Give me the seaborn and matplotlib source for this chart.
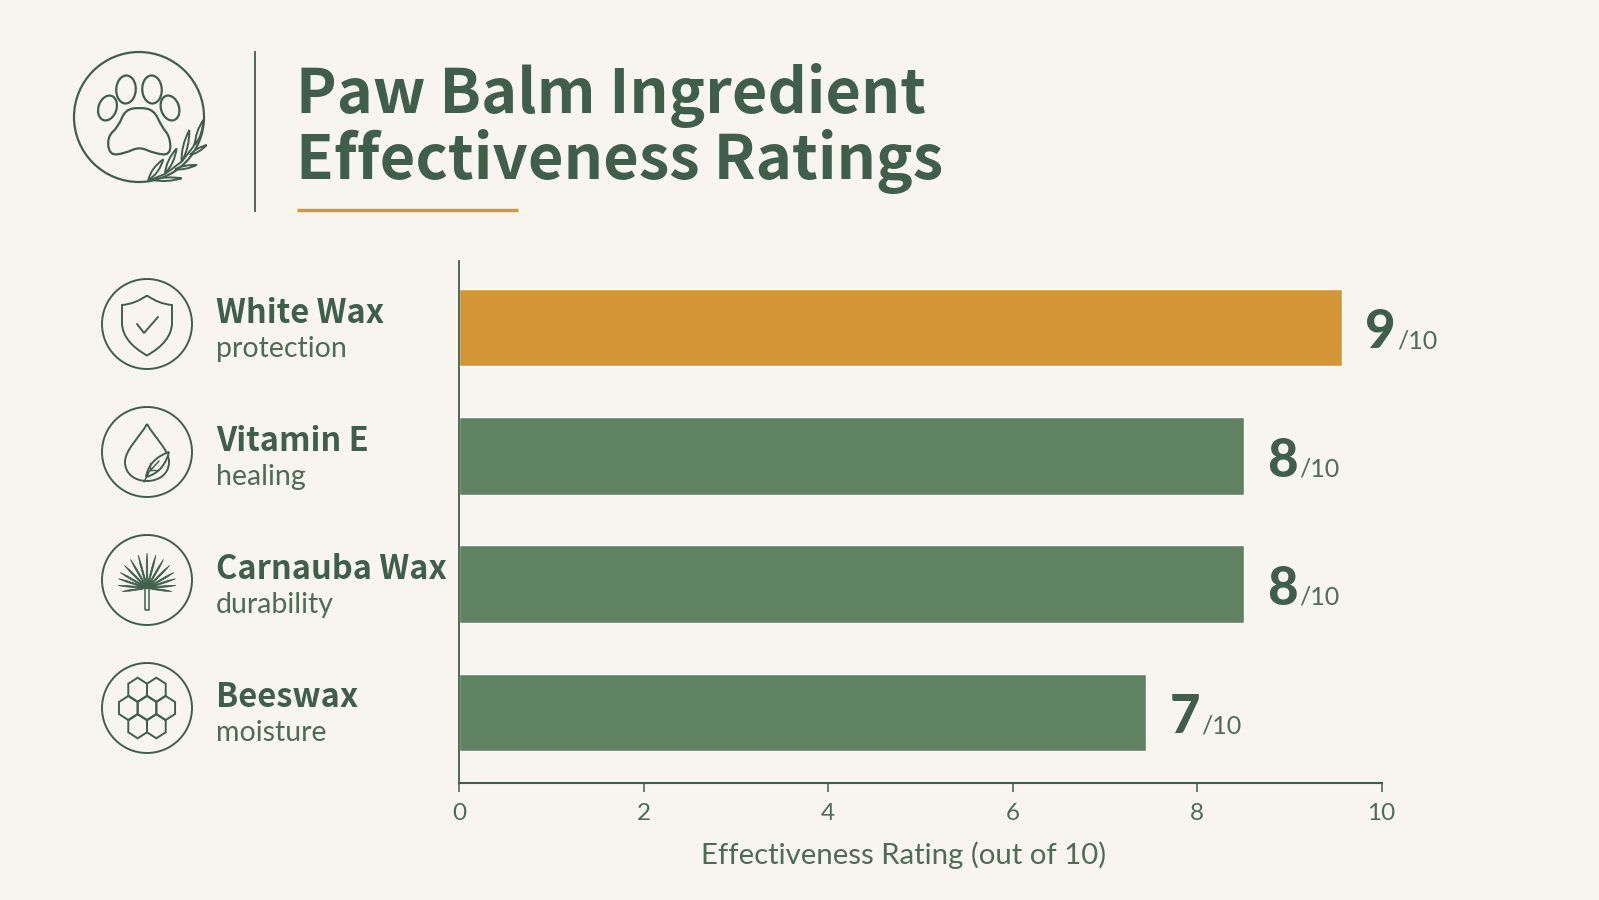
import numpy as np
import pandas as pd
import matplotlib
matplotlib.use("Agg")
import matplotlib.pyplot as plt
from matplotlib.path import Path
from matplotlib.patches import Circle, Ellipse, PathPatch, Polygon
import seaborn as sns

# Ratings
ingredients = ["White Wax", "Vitamin E", "Carnauba Wax", "Beeswax"]
benefits = ["protection", "healing", "durability", "moisture"]
ratings = [9, 8, 8, 7]
highlighted = ["yes", "no", "no", "no"]
axis_ticks = [0, 2, 4, 6, 8, 10]

BG = "#F8F5EE"
DARK = "#3F5F4A"
TEXT = "#4C6C56"
GREEN = "#5F8260"
ORANGE = "#D49536"
FONT = "Lato"
HEAD_FONT = "Noto Sans CJK JP"

sns.set_theme(style="white", rc={"font.family": FONT, "figure.facecolor": BG, "axes.facecolor": BG})

W, H = 1599, 900
fig = plt.figure(figsize=(W / 100, H / 100), dpi=100, facecolor=BG)

# Full-figure layer in pixel coordinates for the header, icons and row names
px = fig.add_axes([0, 0, 1, 1], zorder=0)
px.set_xlim(0, W)
px.set_ylim(H, 0)
px.axis("off")

# ---- bars ----
left, right, top, bottom = 459.3, 1381.5, 261, 783
ax = fig.add_axes([left / W, (H - bottom) / H, (right - left) / W, (bottom - top) / H], zorder=2)
ax.patch.set_alpha(0)
df = pd.DataFrame({"ingredient": ingredients, "rating": ratings, "highlight": highlighted})
sns.barplot(data=df, x="rating", y="ingredient", hue="highlight", order=ingredients,
            palette={"yes": ORANGE, "no": GREEN}, dodge=False, width=0.605, saturation=1,
            legend=False, ax=ax)
# The bars run on a stretched scale: a rating of 9 reaches past the 9 position
# of the printed 0-10 axis below.
ax.set_xlim(0, 9.405)
ax.set_ylim(3.55, -0.518)
ax.set_xlabel("")
ax.set_ylabel("")
ax.set_yticks([])
ax.set_xticks([])
for side in ("top", "right", "bottom"):
    ax.spines[side].set_visible(False)
ax.spines["left"].set_color(DARK)
ax.spines["left"].set_linewidth(1.3)

# Printed 0-10 axis
scale = ax.twiny()
scale.patch.set_alpha(0)
scale.set_xlim(0, 10)
scale.xaxis.set_ticks_position("bottom")
scale.xaxis.set_label_position("bottom")
scale.set_xticks(axis_ticks)
scale.set_xticklabels([str(t) for t in axis_ticks])
scale.tick_params(axis="x", length=6.5, width=1.1, color=DARK, labelcolor=TEXT, labelsize=17.5, pad=8)
for side in ("top", "right", "left"):
    scale.spines[side].set_visible(False)
scale.spines["bottom"].set_color(DARK)
scale.spines["bottom"].set_linewidth(1.5)
scale.set_xlabel("Effectiveness Rating (out of 10)", fontsize=21.2, color=TEXT)
scale.xaxis.set_label_coords(0.482, -0.112)

# Value labels beside each bar
for i, value in enumerate(ratings):
    ax.annotate(str(value), xy=(value, i), xytext=(17, -15), textcoords="offset points",
                fontsize=38, fontweight=900, color=DARK, ha="left", va="baseline")
    ax.annotate("/10", xy=(value, i), xytext=(40, -15), textcoords="offset points",
                fontsize=18, color=TEXT, ha="left", va="baseline")

# ---- header ----
px.text(296, 113.5, "Paw Balm Ingredient", fontsize=44, fontweight="bold", family=HEAD_FONT,
        color=DARK, va="baseline")
px.text(296, 178.5, "Effectiveness Ratings", fontsize=44.3, fontweight="bold", family=HEAD_FONT,
        color=DARK, va="baseline")
px.plot([297, 518], [210, 210], color=ORANGE, lw=2.4, solid_capstyle="butt")
px.plot([255, 255], [51, 212], color=DARK, lw=1.3, solid_capstyle="butt")

LW = 1.4


def line(points, lw=LW, color=DARK):
    xs, ys = zip(*points)
    px.plot(xs, ys, color=color, lw=lw, solid_capstyle="round", solid_joinstyle="round", zorder=3)


def blob(points, lw=LW):
    pts = np.asarray(points, float)
    mids = (pts + np.roll(pts, -1, axis=0)) / 2
    verts, codes = [mids[-1]], [Path.MOVETO]
    for p, m in zip(pts, mids):
        verts += [p, m]
        codes += [Path.CURVE3, Path.CURVE3]
    px.add_patch(PathPatch(Path(verts, codes), fc="none", ec=DARK, lw=lw, zorder=3))


def leaf(a, b, width, fc=BG, lw=LW):
    a, b = np.asarray(a, float), np.asarray(b, float)
    d = b - a
    n = np.array([-d[1], d[0]]) / np.hypot(*d) * width
    m = a + d * 0.45
    verts = [a, m + n, b, m - n, a]
    codes = [Path.MOVETO, Path.CURVE3, Path.CURVE3, Path.CURVE3, Path.CURVE3]
    px.add_patch(PathPatch(Path(verts, codes), fc=fc, ec=DARK, lw=lw, zorder=3))


# Paw badge (coordinates on a 3x grid keep the shapes easy to edit)
def p1(x, y):
    return (50 + x / 3, 30 + y / 3)


px.add_patch(Circle((139, 117), 65, fc="none", ec=DARK, lw=LW + 0.2, zorder=2))
for (x, y, w, h, ang) in [(107.5, 108, 18, 25.5, 18), (126, 89.5, 19.5, 28, 3),
                          (152, 89.5, 19.5, 28, -3), (170, 108, 18, 25.5, -18)]:
    px.add_patch(Ellipse((x, y), w, h, angle=ang, fc="none", ec=DARK, lw=LW + 0.2, zorder=3))
blob([p1(*q) for q in [(268, 232), (225, 240), (205, 290), (172, 320), (178, 376), (225, 370),
                       (268, 350), (312, 370), (362, 376), (360, 320), (335, 290), (312, 240)]],
     lw=LW + 0.2)
line([p1(*q) for q in [(295, 452), (345, 432), (395, 395), (430, 350), (458, 275)]])
for a, b, w in [((295, 450), (340, 388), 5), ((345, 430), (380, 355), 4.5),
                ((395, 395), (418, 300), 4.5), ((435, 345), (460, 270), 4),
                ((310, 450), (395, 445), 3.5), ((375, 418), (440, 405), 3),
                ((420, 375), (470, 345), 3)]:
    leaf(p1(*a), p1(*b), w)

# Row icons and names
for i, cy in enumerate([324, 452, 580, 708]):
    px.add_patch(Circle((147, cy), 45, fc="none", ec=DARK, lw=LW, zorder=2))
    name_y = cy - 1
    px.text(216, name_y, ingredients[i], fontsize=23.5, fontweight="bold", family=HEAD_FONT,
            color=DARK, va="baseline")
    px.text(216, name_y + 34, benefits[i], fontsize=20.5, color=TEXT, va="baseline")

# Shield with check
cx, cy = 147, 324
shield_v = [(cx, cy - 28.5), (cx + 12, cy - 20), (cx + 25, cy - 19), (cx + 25, cy + 0),
            (cx + 24, cy + 18), (cx, cy + 31.5), (cx - 24, cy + 18), (cx - 25, cy + 0),
            (cx - 25, cy - 19), (cx - 12, cy - 20), (cx, cy - 28.5)]
shield_c = [Path.MOVETO, Path.CURVE3, Path.CURVE3, Path.LINETO, Path.CURVE3, Path.CURVE3,
            Path.CURVE3, Path.CURVE3, Path.LINETO, Path.CURVE3, Path.CURVE3]
px.add_patch(PathPatch(Path(shield_v, shield_c), fc="none", ec=DARK, lw=LW, zorder=3))
line([(cx - 10, cy), (cx - 3, cy + 9), (cx + 11, cy - 7)])

# Drop with leaf
cx, cy = 147, 452
drop_v = [(cx, cy - 28),
          (cx + 8, cy - 14), (cx + 22, cy - 2), (cx + 22, cy + 10),
          (cx + 22, cy + 22), (cx + 12, cy + 29), (cx, cy + 29),
          (cx - 12, cy + 29), (cx - 22, cy + 22), (cx - 22, cy + 10),
          (cx - 22, cy - 2), (cx - 8, cy - 14), (cx, cy - 28)]
drop_c = [Path.MOVETO] + [Path.CURVE4] * 12
px.add_patch(PathPatch(Path(drop_v, drop_c), fc="none", ec=DARK, lw=LW, zorder=3))
leaf((cx - 1, cy + 25), (cx + 22, cy), 10)
line([(cx - 3, cy + 30), (cx + 2, cy + 20), (cx + 12, cy + 9)], lw=1.1)
line([(cx + 3, cy + 18), (cx + 3, cy + 11)], lw=1.0)
line([(cx + 3, cy + 18), (cx + 11, cy + 18)], lw=1.0)

# Palm frond
cx, cy = 147, 580
px.add_patch(PathPatch(Path([(cx - 2, cy + 30), (cx - 2, cy + 7), (cx + 2, cy + 7), (cx + 2, cy + 30), (cx - 2, cy + 30)]),
                       fc=BG, ec=DARK, lw=1.1, zorder=3))
for ang, length in [(-8, 25), (5, 29), (18, 30), (30, 31), (45, 32), (60, 33), (75, 34), (90, 35),
                    (105, 34), (120, 33), (135, 32), (150, 31), (162, 30), (175, 29), (188, 25)]:
    t = np.deg2rad(ang)
    tip = (cx + length * np.cos(t), cy + 8 - length * np.sin(t))
    leaf((cx, cy + 8), tip, 1.8, fc=DARK, lw=0.6)

# Honeycomb
cx, cy = 147, 708
step = 18.7
for col, row in [(-0.5, -1), (0.5, -1), (-1, 0), (0, 0), (1, 0), (-0.5, 1), (0.5, 1)]:
    hx, hy = cx + col * step, cy + row * 18.3
    angles = np.deg2rad(np.arange(30, 390, 60))
    px.add_patch(Polygon(np.c_[hx + 10.8 * np.cos(angles), hy + 12 * np.sin(angles)],
                         closed=True, fc="none", ec=DARK, lw=LW, zorder=3))

fig.savefig("out.png", dpi=100, facecolor=BG)
